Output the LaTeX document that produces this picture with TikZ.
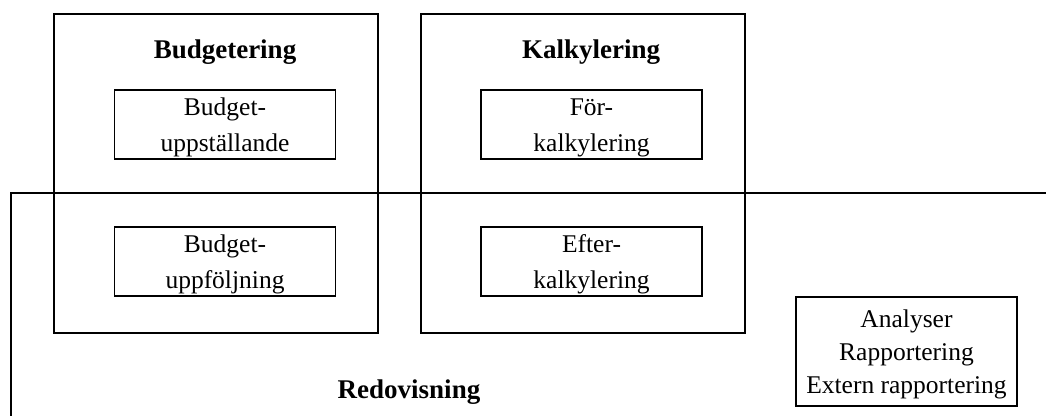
\documentclass[tikz,border=0pt]{standalone}
\usepackage{fontspec}
\setmainfont{Liberation Serif}
\begin{document}
\begin{tikzpicture}[x=1pt,y=-1pt,
  every node/.style={inner sep=0pt,outer sep=0pt},
  bigbox/.style={draw,line width=1.3pt,minimum width=324pt,minimum height=319pt},
  innerbox/.style={draw,line width=1.3pt,minimum width=221pt,minimum height=69pt,align=center,
    font=\fontsize{25.5}{36}\selectfont,text height=58pt,text depth=5pt},
  title/.style={font=\fontsize{27}{30}\selectfont\bfseries,anchor=base},
  infobox/.style={draw,line width=1.3pt,minimum width=221pt,minimum height=109pt,align=center,
    font=\fontsize{25.5}{33}\selectfont,text height=88pt,text depth=5pt}]
\useasboundingbox (0,0) rectangle (1046,416);
% Redovisning (open region)
\coordinate (redTR) at (1046,193);
\coordinate (redTL) at (11,193);
\coordinate (redBL) at (11,416);
\draw[line width=1.3pt] (redTR) -- (redTL) -- (redBL);
\node[title] (redlbl) at (409,398) {Redovisning};
% Budgetering
\node[bigbox] (budget) at (216,173.5) {};
\node[title] (budgetlbl) at (225,58) {Budgetering};
\node[innerbox] (bupp) at (225,124.5) {Budget-\\uppställande};
\node[innerbox] (buf) at (225,261.5) {Budget-\\uppföljning};
% Kalkylering
\node[bigbox] (kalk) at (583,173.5) {};
\node[title] (kalklbl) at (591,58) {Kalkylering};
\node[innerbox] (fkalk) at (591.5,124.5) {För-\\kalkylering};
\node[innerbox] (ekalk) at (591.5,261.5) {Efter-\\kalkylering};
% Analyser
\node[infobox] (analys) at (906.5,351.5) {Analyser\\Rapportering\\Extern rapportering};
\end{tikzpicture}
\end{document}
